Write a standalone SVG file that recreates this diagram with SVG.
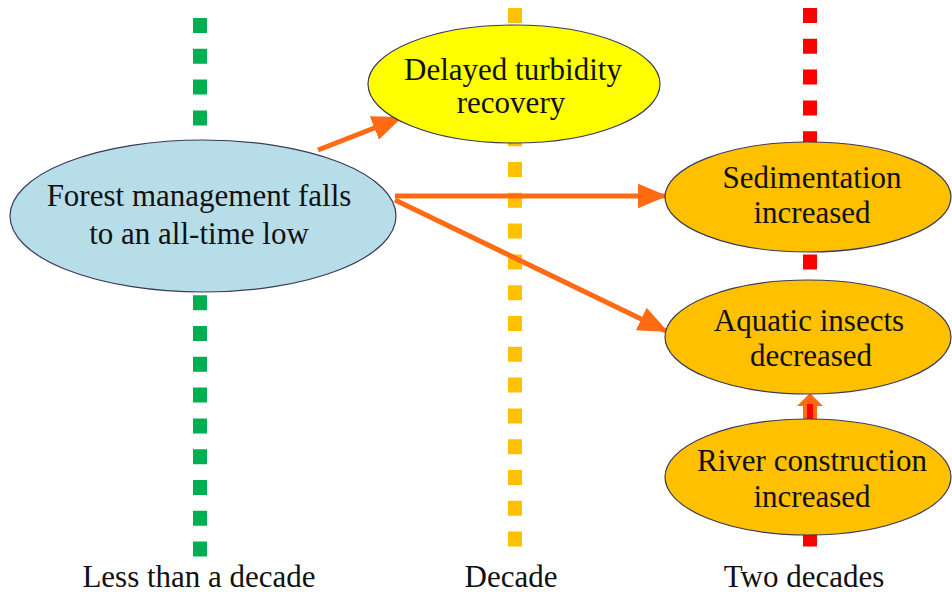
<svg xmlns="http://www.w3.org/2000/svg" width="952" height="596" viewBox="0 0 952 596">
<style>
.dash{fill:none;stroke-width:14;stroke-dasharray:15 15.8}
.node{stroke:#3a3a5a;stroke-width:1.2}
.arr{stroke:#FF6A13;stroke-width:5;fill:none}
text{font-family:"Liberation Serif",Tinos,"Times New Roman",Times,"Nimbus Roman","Noto Serif","DejaVu Serif",serif;font-size:31px;fill:#111;text-anchor:middle}
</style>
<defs>
<marker id="ah" markerWidth="6" markerHeight="5" refX="5.5" refY="2.5" orient="auto" markerUnits="strokeWidth">
<path d="M0,0 L6,2.5 L0,5 z" fill="#FF6A13"/>
</marker>
</defs>
<g id="timelines">
<line class="dash" x1="200" y1="18" x2="200" y2="557" stroke="#00B050"/>
<line class="dash" x1="515" y1="8" x2="515" y2="547" stroke="#FFC000"/>
<line class="dash" x1="810" y1="8" x2="810" y2="547" stroke="#FF0000"/>
</g>
<g id="connectors">
<line class="arr" x1="318" y1="150" x2="400" y2="118" marker-end="url(#ah)"/>
<line class="arr" x1="395" y1="196" x2="665" y2="196" marker-end="url(#ah)"/>
<line class="arr" x1="395" y1="200" x2="666" y2="331" marker-end="url(#ah)"/>
<path d="M803,421 L803,406 L797,406 L810,393 L823,406 L817,406 L817,421 z" fill="#FF6A13"/>
<rect x="807" y="404" width="6" height="17" fill="#FF0000"/>
</g>
<g id="node-forest">
<ellipse class="node" cx="203" cy="216" rx="193" ry="76" fill="#B7DEE8"/>
<text x="199" y="206">Forest management falls</text>
<text x="199" y="244">to an all-time low</text>
</g>
<g id="node-turbidity">
<ellipse class="node" cx="514" cy="84" rx="146" ry="59" fill="#FFFF00"/>
<text x="513" y="80">Delayed turbidity</text>
<text x="511" y="113">recovery</text>
</g>
<g id="node-sedimentation">
<ellipse class="node" cx="808" cy="197" rx="143" ry="55" fill="#FFC000"/>
<text x="812" y="188">Sedimentation</text>
<text x="812" y="223">increased</text>
</g>
<g id="node-insects">
<ellipse class="node" cx="808" cy="337" rx="143" ry="57" fill="#FFC000"/>
<text x="809" y="331">Aquatic insects</text>
<text x="811" y="366">decreased</text>
</g>
<g id="node-river">
<ellipse class="node" cx="808" cy="477" rx="143" ry="58" fill="#FFC000"/>
<text x="812" y="471">River construction</text>
<text x="812" y="507">increased</text>
</g>
<g id="labels">
<text x="199" y="587">Less than a decade</text>
<text x="511" y="587">Decade</text>
<text x="804" y="587">Two decades</text>
</g>
</svg>
